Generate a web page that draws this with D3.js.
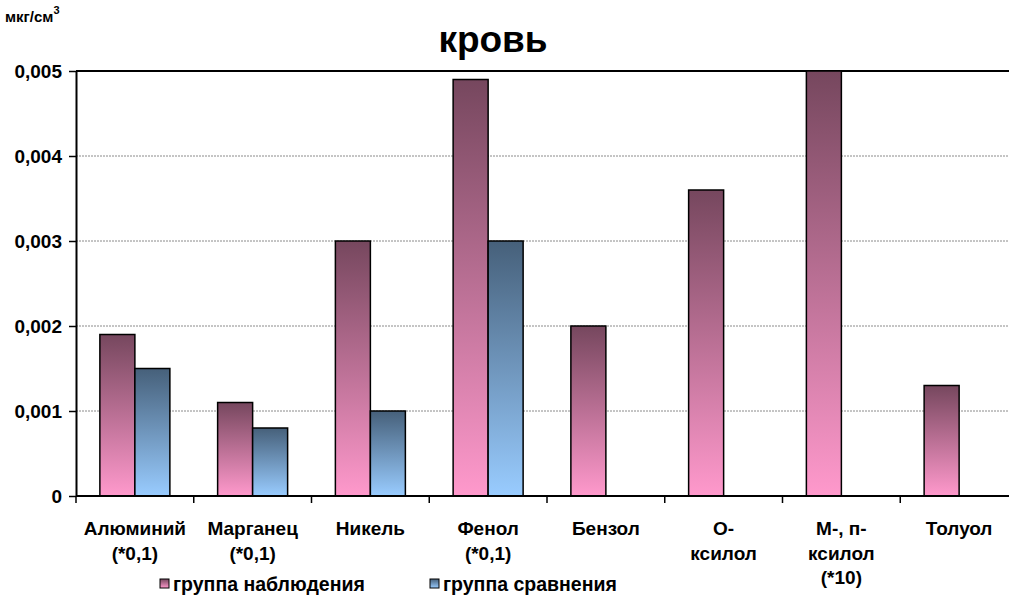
<!DOCTYPE html>
<html>
<head>
<meta charset="utf-8">
<script src="https://cdn.jsdelivr.net/npm/d3@7"></script>
<style>
  html, body { margin: 0; padding: 0; background: #fff; }
  svg { display: block; font-family: "Liberation Sans", Arial, sans-serif; }
</style>
</head>
<body>
<svg id="chart" width="1009" height="598"></svg>
<script>
// Concentrations in blood, µg/cm³ (some scaled, see label suffixes)
const categories = [
  ["Алюминий", "(*0,1)"],
  ["Марганец", "(*0,1)"],
  ["Никель"],
  ["Фенол", "(*0,1)"],
  ["Бензол"],
  ["О-", "ксилол"],
  ["М-, п-", "ксилол", "(*10)"],
  ["Толуол"]
];
const observed = [0.0019, 0.0011, 0.003, 0.0049, 0.002, 0.0036, 0.005, 0.0013];
const comparison = [0.0015, 0.0008, 0.001, 0.003, null, null, null, null];
const yTicks = [0, 0.001, 0.002, 0.003, 0.004, 0.005];
const seriesNames = ["группа наблюдения", "группа сравнения"];

const svg = d3.select("#chart");
const margin = { left: 76, top: 71, bottom: 496, right: 1018 };

const x = d3.scaleBand()
  .domain(d3.range(categories.length))
  .range([margin.left, margin.right])
  .paddingInner(0).paddingOuter(0);

const y = d3.scaleLinear().domain([0, 0.005]).range([margin.bottom, margin.top]);

const fmt = v => d3.format(".3f")(v).replace(".", ",").replace(/^0,000$/, "0");

// Gradients
const defs = svg.append("defs");
function grad(id, top, bottom) {
  const g = defs.append("linearGradient").attr("id", id)
    .attr("x1", 0).attr("y1", 0).attr("x2", 0).attr("y2", 1);
  g.append("stop").attr("offset", "0%").attr("stop-color", top);
  g.append("stop").attr("offset", "100%").attr("stop-color", bottom);
}
grad("gPink", "#76475e", "#ff99cc");
grad("gBlue", "#46607a", "#99ccff");

// Gridlines
svg.append("g").selectAll("line")
  .data(yTicks.filter(t => t > 0 && t < 0.005))
  .join("line")
  .attr("x1", margin.left).attr("x2", 1009)
  .attr("y1", d => y(d)).attr("y2", d => y(d))
  .attr("stroke", "#8a8a8a").attr("stroke-width", 1)
  .attr("stroke-dasharray", "2,1");

// Top border line
svg.append("line")
  .attr("x1", margin.left).attr("x2", 1009)
  .attr("y1", y(0.005)).attr("y2", y(0.005))
  .attr("stroke", "#000").attr("stroke-width", 2);

// Bars
const barW = 35;
const groupOffset = (x.bandwidth() - 2 * barW) / 2;
const bars = svg.append("g");
bars.selectAll("rect.obs")
  .data(observed)
  .join("rect")
  .attr("class", "obs")
  .attr("x", (d, i) => x(i) + groupOffset)
  .attr("y", d => y(d))
  .attr("width", barW)
  .attr("height", d => y(0) - y(d))
  .attr("fill", "url(#gPink)")
  .attr("stroke", "#000").attr("stroke-width", 1.5);

bars.selectAll("rect.cmp")
  .data(comparison.map((v, i) => ({ v, i })).filter(d => d.v !== null))
  .join("rect")
  .attr("class", "cmp")
  .attr("x", d => x(d.i) + groupOffset + barW)
  .attr("y", d => y(d.v))
  .attr("width", barW)
  .attr("height", d => y(0) - y(d.v))
  .attr("fill", "url(#gBlue)")
  .attr("stroke", "#000").attr("stroke-width", 1.5);

// Y axis
const yAxis = d3.axisLeft(y).tickValues(yTicks).tickFormat(fmt).tickSize(7).tickSizeOuter(0);
const ya = svg.append("g").attr("transform", `translate(${margin.left},0)`).call(yAxis);
ya.select(".domain").attr("stroke", "#000").attr("stroke-width", 2);
ya.selectAll(".tick line").attr("stroke", "#000").attr("stroke-width", 1.5);
ya.selectAll(".tick text")
  .attr("x", -14)
  .attr("font-size", 19).attr("font-weight", "bold")
  .attr("font-family", "Liberation Sans, Arial, sans-serif")
  .attr("fill", "#000");

// X axis line and boundary ticks
svg.append("line")
  .attr("x1", margin.left).attr("x2", 1009)
  .attr("y1", y(0)).attr("y2", y(0))
  .attr("stroke", "#000").attr("stroke-width", 2);
svg.append("g").selectAll("line")
  .data(d3.range(categories.length + 1).filter(i => x.step() * i + margin.left < 1009))
  .join("line")
  .attr("x1", i => margin.left + x.step() * i)
  .attr("x2", i => margin.left + x.step() * i)
  .attr("y1", y(0)).attr("y2", y(0) + 7)
  .attr("stroke", "#000").attr("stroke-width", 1.5);

// Category labels
const labels = svg.append("g")
  .attr("font-size", 19).attr("font-weight", "bold").attr("text-anchor", "middle").attr("fill", "#000");
categories.forEach((lines, i) => {
  lines.forEach((t, j) => {
    labels.append("text")
      .attr("x", x(i) + x.bandwidth() / 2)
      .attr("y", 535 + j * 24.5)
      .text(t);
  });
});

// Title
svg.append("text")
  .attr("x", 493).attr("y", 52)
  .attr("text-anchor", "middle")
  .attr("font-size", 37).attr("font-weight", "bold")
  .text("кровь");

// Unit label
const unit = svg.append("text")
  .attr("x", 5).attr("y", 22)
  .attr("font-size", 15).attr("font-weight", "bold");
unit.append("tspan").text("мкг/см");
unit.append("tspan").attr("dy", -8).attr("font-size", 11).text("3");

// Legend
const legend = svg.append("g").attr("font-size", 19.5).attr("font-weight", "bold");
const legendItems = [
  { name: seriesNames[0], fill: "url(#gPink)", x: 160 },
  { name: seriesNames[1], fill: "url(#gBlue)", x: 430 }
];
legendItems.forEach(it => {
  legend.append("rect")
    .attr("x", it.x).attr("y", 579).attr("width", 9).attr("height", 9)
    .attr("fill", it.fill).attr("stroke", "#000").attr("stroke-width", 1);
  legend.append("text").attr("x", it.x + 13).attr("y", 591).text(it.name);
});
</script>
</body>
</html>
